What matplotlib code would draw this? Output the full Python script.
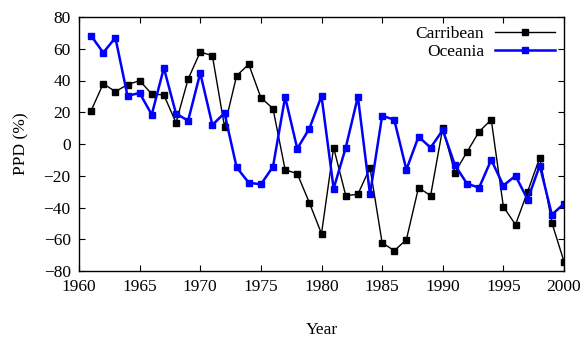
import matplotlib
matplotlib.use("Agg")
import matplotlib.pyplot as plt

years = list(range(1961, 2001))
carribean = [21, 38, 33, 37.4, 39.9, 31.5, 30.9, 13.4, 40.9, 58, 55.6, 10.9, 43, 50.2,
             29.2, 22.3, -16.2, -18.7, -37, -56.5, -2.3, -32.5, -31.7, -14.9, -62.2,
             -67.2, -60.3, -27.5, -32.5, 10.1, -18, -5, 7.8, 15.3, -39.5, -50.8, -30,
             -8.6, -49.6, -74.1]
oceania = [68.2, 57.5, 67, 30.4, 32.1, 18.5, 47.9, 19.1, 14.7, 44.7, 12, 19.5, -14.7,
           -24.4, -25.4, -14.3, 29.6, -2.9, 9.7, 30.2, -28.1, -2.3, 29.8, -31.7, 17.8,
           15.3, -16.2, 4.6, -2.3, 8.8, -13.2, -25, -27.5, -9.9, -26.2, -20, -35,
           -13.6, -44.5, -37.6]
xticks = [1960, 1965, 1970, 1975, 1980, 1985, 1990, 1995, 2000]
yticks = [-80, -60, -40, -20, 0, 20, 40, 60, 80]

plt.rcParams['font.family'] = ['Liberation Serif', 'DejaVu Serif']
fig = plt.figure(figsize=(5.83, 3.42), dpi=100)
ax = fig.add_axes([79/583, 1-271/342, (564-79)/583, (271-17)/342])

ax.plot(years, carribean, color='black', lw=1, marker='s', ms=4.5, label='Carribean')
ax.plot(years, oceania, color='#0000ff', lw=1.8, marker='s', ms=4.5, label='Oceania')

ax.set_xlim(1960, 2000)
ax.set_ylim(-80, 80)
ax.set_xticks(xticks)
ax.set_yticks(yticks)
ax.tick_params(direction='in', top=True, right=True, labelsize=12.5, length=4)
ax.tick_params(axis='x', pad=6)
ax.tick_params(axis='y', pad=6)
for s in ax.spines.values():
    s.set_linewidth(1)
ax.set_xlabel('Year', fontsize=12.5, labelpad=19)
ax.set_ylabel('PPD (%)', fontsize=12.5, labelpad=10)

ax.legend(loc='upper right', frameon=False, markerfirst=False, fontsize=12.5,
          handlelength=3.5, handletextpad=0.6, labelspacing=0.1,
          borderaxespad=0.2, borderpad=0.3)

fig.savefig('out.png', dpi=100)
